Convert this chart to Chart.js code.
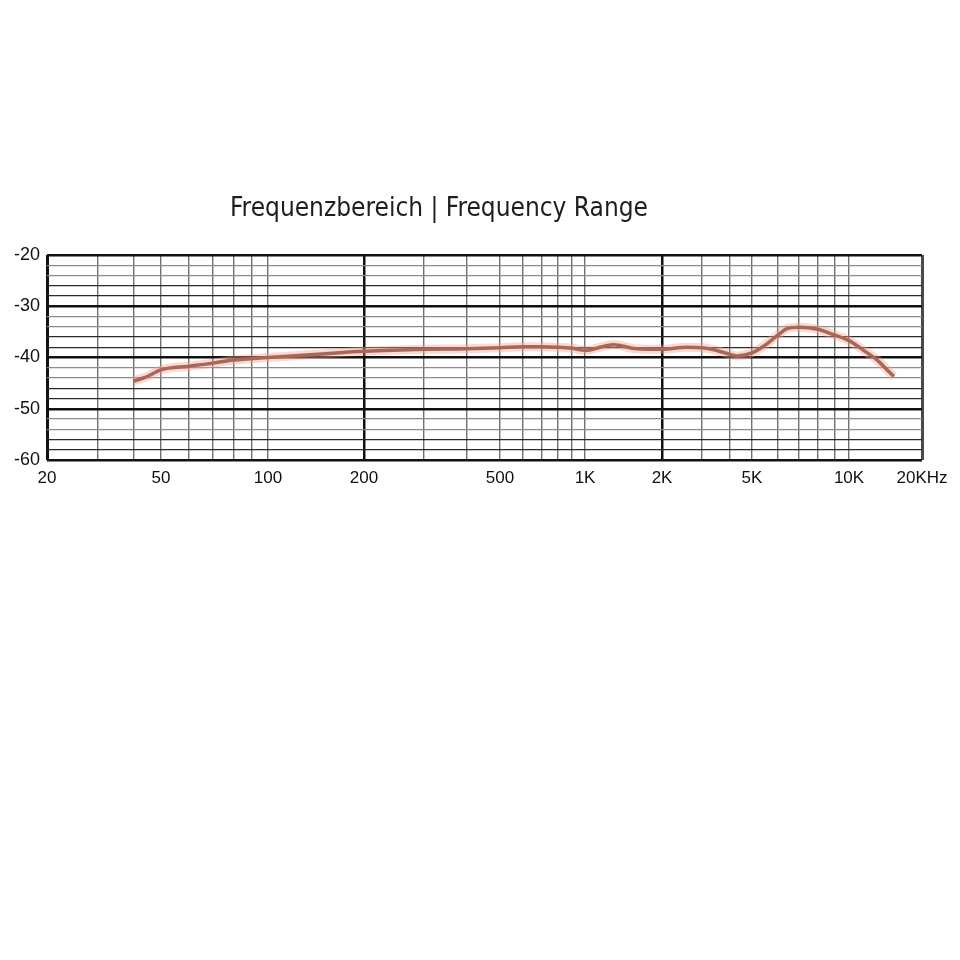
<!DOCTYPE html>
<html>
<head>
<meta charset="utf-8">
<script src="https://cdn.jsdelivr.net/npm/chart.js@4/dist/chart.umd.min.js"></script>
<style>
  html, body { margin: 0; padding: 0; background: #fff; }
  canvas { display: block; }
</style>
</head>
<body>
<canvas id="freqChart" width="960" height="960"></canvas>
<script>
// Frequency response (Hz -> dB)
const freqs = [40, 44, 50, 60, 70, 80, 100, 156, 200, 300, 400, 500, 600, 700, 800, 900, 1000, 1290, 1590, 2000, 2570, 3000, 3400, 4000, 4300, 5000, 5400, 6000, 6400, 7000, 8000, 9000, 10000, 11800, 13000, 14700, 15300];
const levels = [-44.6, -43.9, -42.4, -41.7, -41.1, -40.5, -40.0, -39.2, -38.8, -38.4, -38.3, -38.1, -37.9, -37.9, -38.0, -38.2, -38.6, -37.5, -38.3, -38.4, -38.0, -38.1, -38.5, -39.4, -39.7, -39.1, -37.9, -35.7, -34.4, -34.1, -34.5, -35.6, -36.7, -39.0, -40.4, -42.9, -43.7];

// grid lines and labels of the frequency axis
const gridFreqs = [20, 30, 40, 50, 60, 70, 80, 90, 100, 200, 300, 400, 500, 600, 700, 800, 900, 1000, 2000, 3000, 4000, 5000, 6000, 7000, 8000, 9000, 10000, 20000];
const freqLabels = { 20: '20', 50: '50', 100: '100', 200: '200', 500: '500', 1000: '1K', 2000: '2K', 5000: '5K', 10000: '10K', 20000: '20KHz' };
const titleText = 'Frequenzbereich | Frequency Range';

// the printed log axis is not evenly spaced; these anchors follow the print
const warpFreqs = [20, 50, 100, 200, 500, 1000, 2000, 5000, 10000, 20000];
const warpPos = [0, 0.1303, 0.2526, 0.3623, 0.5177, 0.6149, 0.7029, 0.8057, 0.9166, 1];

function freqToDecimal(f) {
  const lf = Math.log10(f);
  for (let i = 0; i < warpFreqs.length - 1; i++) {
    const a = Math.log10(warpFreqs[i]), b = Math.log10(warpFreqs[i + 1]);
    if (lf <= b || i === warpFreqs.length - 2) {
      return warpPos[i] + (lf - a) / (b - a) * (warpPos[i + 1] - warpPos[i]);
    }
  }
}
function decimalToFreq(d) {
  for (let i = 0; i < warpPos.length - 1; i++) {
    if (d <= warpPos[i + 1] || i === warpPos.length - 2) {
      const a = Math.log10(warpFreqs[i]), b = Math.log10(warpFreqs[i + 1]);
      const t = (d - warpPos[i]) / (warpPos[i + 1] - warpPos[i]);
      return Math.pow(10, a + t * (b - a));
    }
  }
}

class FreqScale extends Chart.Scale {
  determineDataLimits() { this.min = 20; this.max = 20000; }
  buildTicks() { return gridFreqs.map(v => ({ value: v })); }
  getLabelForValue(v) { return String(v); }
  getPixelForValue(v) { return this.getPixelForDecimal(freqToDecimal(v)); }
  getValueForPixel(p) { return decimalToFreq(this.getDecimalForPixel(p)); }
}
FreqScale.id = 'freq';
FreqScale.defaults = {};
Chart.register(FreqScale);

const points = freqs.map((f, i) => ({ x: f, y: levels[i] }));

const titlePlugin = {
  id: 'printedTitle',
  afterDraw(chart) {
    const c = chart.ctx;
    c.save();
    c.font = '26px "Liberation Sans Narrow", "DejaVu Sans Condensed", sans-serif';
    c.fillStyle = '#1e1e1e';
    c.textAlign = 'center';
    c.textBaseline = 'middle';
    c.fillText(titleText, 439, 209);
    c.restore();
  }
};

const ctx = document.getElementById('freqChart').getContext('2d');
new Chart(ctx, {
  type: 'line',
  data: {
    datasets: [{
      data: points,
      borderColor: 'rgba(240, 160, 140, 0.4)',
      borderWidth: 9,
      pointRadius: 0,
      cubicInterpolationMode: 'monotone'
    }, {
      data: points,
      borderColor: '#7a4234',
      borderWidth: 3.5,
      pointRadius: 0,
      cubicInterpolationMode: 'monotone'
    }]
  },
  options: {
    responsive: false,
    animation: false,
    layout: { padding: { top: 255, right: 38, bottom: 460, left: 0 } },
    plugins: { legend: { display: false }, tooltip: { enabled: false } },
    scales: {
      x: {
        type: 'freq',
        position: 'bottom',
        afterFit(scale) { scale.height = 40; },
        border: { display: false },
        grid: {
          drawTicks: false,
          color(c) {
            const v = c.tick && c.tick.value;
            if (v === 200 || v === 2000 || v === 20) return '#111';
            if (v === 20000) return '#4a4a4a';
            return '#707070';
          },
          lineWidth(c) {
            const v = c.tick && c.tick.value;
            if (v === 20 || v === 20000) return 3;
            if (v === 200 || v === 2000) return 2.5;
            return 1.4;
          }
        },
        ticks: {
          autoSkip: false,
          maxRotation: 0,
          padding: 8,
          color: '#111',
          font: { family: '"Liberation Sans", Arial, sans-serif', size: 17 },
          callback(v) { return freqLabels[v] || ''; }
        }
      },
      y: {
        type: 'linear',
        min: -60,
        max: -20,
        afterFit(scale) { scale.width = 47; },
        border: { display: false },
        grid: {
          drawTicks: false,
          color(c) {
            const v = Math.abs(c.tick.value) % 10;
            if (v === 0) return '#111';
            return (v === 2 || v === 4) ? '#8c8c8c' : '#2a2a2a';
          },
          lineWidth(c) {
            return Math.abs(c.tick.value) % 10 === 0 ? 2.5 : 1.3;
          }
        },
        ticks: {
          stepSize: 2,
          autoSkip: false,
          padding: 7,
          color: '#111',
          font: { family: '"Liberation Sans", Arial, sans-serif', size: 18 },
          callback(v) { return v % 10 === 0 ? String(v) : ''; }
        }
      }
    }
  },
  plugins: [titlePlugin]
});
</script>
</body>
</html>
